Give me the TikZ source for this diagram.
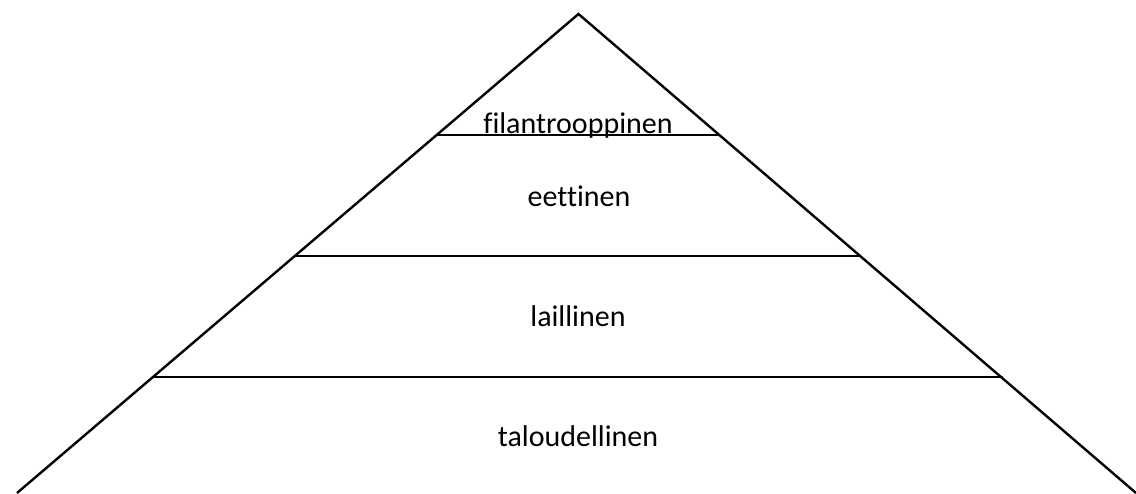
\documentclass[tikz,border=0pt]{standalone}
\usepackage{fontspec}
\setmainfont{Carlito}[Ligatures=NoCommon]
\begin{document}
\begin{tikzpicture}[x=1pt,y=-1pt,
  edge/.style={line width=2.4pt, line join=miter},
  lbl/.style={font=\fontsize{30}{36}\selectfont, inner sep=0pt, anchor=base}]
\useasboundingbox (0,0) rectangle (1136,493);
\coordinate (apex) at (578.5,14);
\coordinate (bl) at (17,493);
\coordinate (br) at (1136,493);
\coordinate (l1) at (436.5,135); \coordinate (r1) at (719,135);
\coordinate (l2) at (295,256); \coordinate (r2) at (861,256);
\coordinate (l3) at (153.5,377); \coordinate (r3) at (1002.5,377);
\draw[edge] (bl) -- (apex) -- (br);
\draw[edge] (l1) -- (r1);
\draw[edge] (l2) -- (r2);
\draw[edge] (l3) -- (r3);
\node[lbl] (t1) at (578,133) {filantrooppinen};
\node[lbl] (t2) at (579,206) {eettinen};
\node[lbl] (t3) at (578,326) {laillinen};
\node[lbl] (t4) at (578,446) {taloudellinen};
\end{tikzpicture}
\end{document}
